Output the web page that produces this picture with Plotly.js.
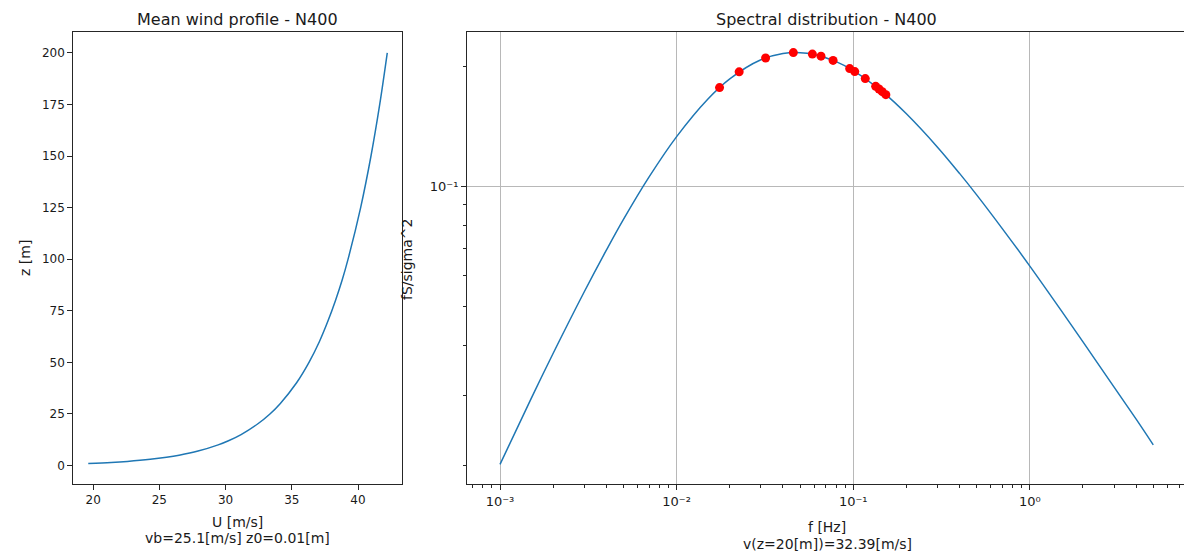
<!DOCTYPE html>
<html>
<head>
<meta charset="utf-8">
<script src="https://cdn.plot.ly/plotly-3.0.1.min.js"></script>
<style>html,body{margin:0;padding:0;background:#fff;overflow:hidden}#chart{width:1184px;height:554px}</style>
</head>
<body>
<div id="chart"></div>
<script>
// ---- Mean wind profile ----
const heightZ = [1, 1.5, 2, 3, 4, 5, 7, 10, 12, 15, 20, 25, 30, 40, 50, 60, 70, 80, 90, 100, 125, 150, 175, 200];
const windU   = [19.63, 21.36, 22.58, 24.31, 25.54, 26.49, 27.92, 29.44, 30.22, 31.17, 32.39, 33.35, 34.12, 35.35, 36.30, 37.08, 37.73, 38.30, 38.81, 39.25, 40.20, 40.98, 41.64, 42.21];

// ---- Spectral distribution ----
const freqHz  = [0.001, 0.0015, 0.002, 0.003, 0.004, 0.005, 0.007, 0.01, 0.015, 0.02, 0.03, 0.04, 0.05, 0.06, 0.08, 0.1, 0.15, 0.2, 0.3, 0.4, 0.5, 0.7, 1, 1.5, 2, 3, 4, 5];
const specS   = [0.0201, 0.0294, 0.0382, 0.0545, 0.0693, 0.0828, 0.1060, 0.1336, 0.1658, 0.1865, 0.2082, 0.2159, 0.2170, 0.2147, 0.2060, 0.1956, 0.1715, 0.1524, 0.1257, 0.1080, 0.0954, 0.0784, 0.0632, 0.0490, 0.0408, 0.0314, 0.0261, 0.0225];

// ---- Red sample points ----
const ptFreq  = [0.0175, 0.0226, 0.0319, 0.0458, 0.0587, 0.0657, 0.0769, 0.0955, 0.102, 0.117, 0.134, 0.140, 0.146, 0.153];
const ptS     = [0.1773, 0.1942, 0.2104, 0.2171, 0.2152, 0.2126, 0.2075, 0.1979, 0.1945, 0.1868, 0.1786, 0.1759, 0.1732, 0.1702];

// ---- Tick labels ----
const xLogTicks = [0.001, 0.01, 0.1, 1];
const xLogText  = ['10\u207B\u00B3', '10\u207B\u00B2', '10\u207B\u00B9', '10\u2070'];
const yLogTicks = [0.1];
const yLogText  = ['10\u207B\u00B9'];
const xMinor = [0.0007, 0.0008, 0.0009,
  0.002, 0.003, 0.004, 0.005, 0.006, 0.007, 0.008, 0.009,
  0.02, 0.03, 0.04, 0.05, 0.06, 0.07, 0.08, 0.09,
  0.2, 0.3, 0.4, 0.5, 0.6, 0.7, 0.8, 0.9,
  2, 3, 4, 5, 6, 7];
const yMinor = [0.02, 0.03, 0.04, 0.05, 0.06, 0.07, 0.08, 0.09, 0.2];

const W = 1184, H = 554;
const px = v => v / W;
const py = v => 1 - v / H;
const FONT = 'DejaVu Sans';
const TXT = '#1a1a1a';
const AX = '#262626';

const traces = [
  {x: windU, y: heightZ, xaxis: 'x', yaxis: 'y', mode: 'lines',
   line: {color: '#1f77b4', width: 1.5, shape: 'spline'}, hoverinfo: 'skip', showlegend: false},
  {x: freqHz, y: specS, xaxis: 'x2', yaxis: 'y2', mode: 'lines',
   line: {color: '#1f77b4', width: 1.5, shape: 'spline'}, hoverinfo: 'skip', showlegend: false},
  {x: ptFreq, y: ptS, xaxis: 'x2', yaxis: 'y2', mode: 'markers',
   marker: {color: '#ff0000', size: 9}, hoverinfo: 'skip', showlegend: false}
];

const baseAxis = {
  showline: true, linecolor: AX, linewidth: 1, ticks: 'outside', ticklen: 5, tickwidth: 1,
  tickcolor: AX, zeroline: false, tickfont: {family: FONT, size: 12, color: TXT}, fixedrange: true
};

function note(text, x, y, size, angle) {
  const a = {text: text, x: px(x), y: py(y), xref: 'paper', yref: 'paper', showarrow: false,
             xanchor: 'center', yanchor: 'middle', font: {family: FONT, size: size, color: TXT}};
  if (angle) a.textangle = angle;
  return a;
}

const layout = {
  width: W, height: H,
  margin: {l: 0, r: 0, t: 0, b: 0},
  paper_bgcolor: '#ffffff', plot_bgcolor: '#ffffff',
  font: {family: FONT, size: 12, color: TXT},
  xaxis: Object.assign({}, baseAxis, {
    domain: [px(73.3), px(401.7)], anchor: 'y', range: [18.5, 43.3],
    tick0: 0, dtick: 5, mirror: true, showgrid: false
  }),
  yaxis: Object.assign({}, baseAxis, {
    domain: [1 - 484 / H, 1 - 32.3 / H], anchor: 'x', range: [-8.95, 209.95],
    tick0: 0, dtick: 25, mirror: true, showgrid: false
  }),
  xaxis2: Object.assign({}, baseAxis, {
    domain: [px(467), 1], anchor: 'y2', type: 'log', range: [-3.187, 0.873],
    tickmode: 'array', tickvals: xLogTicks, ticktext: xLogText, mirror: true,
    tickfont: {family: FONT, size: 13, color: TXT},
    showgrid: true, gridcolor: '#b8b8b8', gridwidth: 1,
    minor: {tickmode: 'array', tickvals: xMinor, ticks: 'outside', ticklen: 3, tickwidth: 1, tickcolor: AX, showgrid: false}
  }),
  yaxis2: Object.assign({}, baseAxis, {
    domain: [1 - 484 / H, 1 - 32.3 / H], anchor: 'x2', type: 'log', range: [-1.746, -0.6125],
    tickmode: 'array', tickvals: yLogTicks, ticktext: yLogText, mirror: false,
    tickfont: {family: FONT, size: 13, color: TXT},
    showgrid: true, gridcolor: '#b8b8b8', gridwidth: 1,
    minor: {tickmode: 'array', tickvals: yMinor, ticks: 'outside', ticklen: 3, tickwidth: 1, tickcolor: AX, showgrid: false}
  }),
  annotations: [
    note('Mean wind profile - N400', 237.5, 19.5, 16),
    note('Spectral distribution - N400', 826, 19.5, 16),
    note('z [m]', 25, 258, 14, -90),
    note('fS/sigma^2', 407, 260, 14, -90),
    note('U [m/s]', 237, 521.5, 14),
    note('vb=25.1[m/s] z0=0.01[m]', 237, 537.5, 14),
    note('f [Hz]', 827, 527, 14),
    note('v(z=20[m])=32.39[m/s]', 827, 544, 14)
  ]
};

Plotly.newPlot('chart', traces, layout, {displayModeBar: false, staticPlot: true});
</script>
</body>
</html>
